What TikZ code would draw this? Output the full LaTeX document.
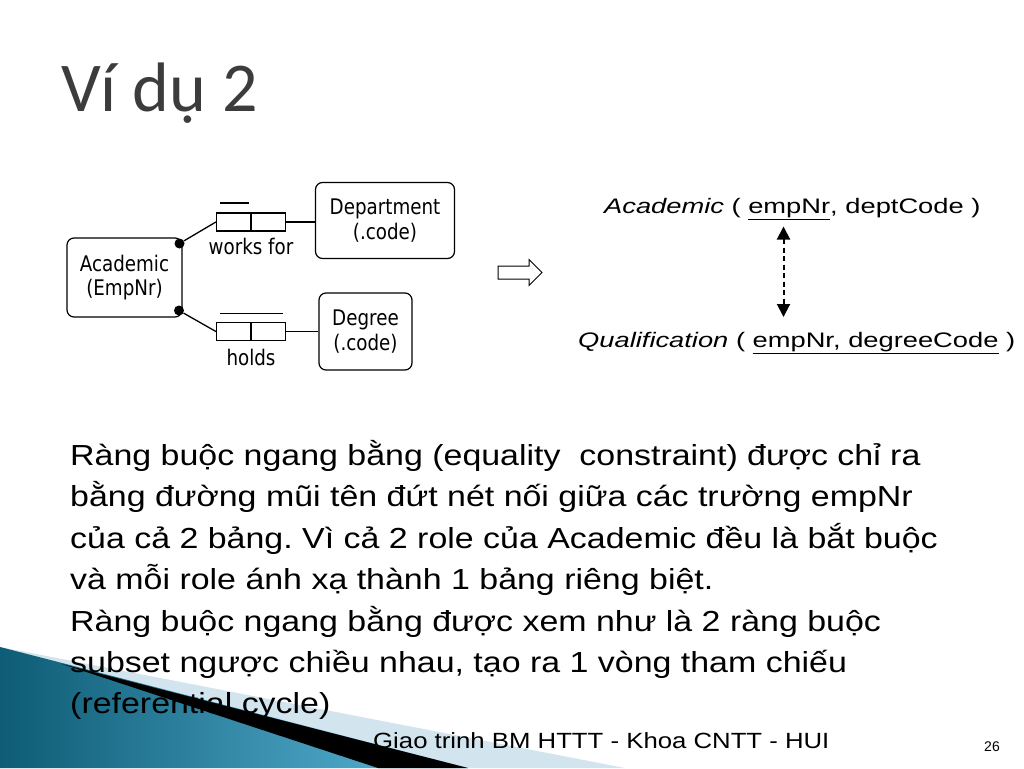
\documentclass[tikz,border=0pt]{standalone}
\usepackage{fontspec}
\setmainfont{Liberation Sans}
\newfontfamily\bodyfont[FakeStretch=1.17]{Liberation Sans}
\newfontfamily\relfont[FakeStretch=1.3]{Liberation Sans}
\newfontfamily\titlefont{Carlito}
\newfontfamily\ormfont[FakeStretch=0.85]{DejaVu Sans}
\usetikzlibrary{arrows.meta}
\definecolor{titlegray}{HTML}{3C3C3C}
\definecolor{lightband}{HTML}{D2E4EE}
\definecolor{tealdark}{HTML}{0E5C75}
\definecolor{teallight}{HTML}{5DB9DC}
\tikzset{
  entity/.style={draw, line width=1.2pt, rounded corners=7pt, align=center, font=\ormfont\fontsize{21.5}{24.5}\selectfont, inner sep=0pt},
  rolebox/.style={draw, line width=1.1pt, minimum width=34pt, minimum height=18pt, inner sep=0pt},
  conn/.style={line width=1.3pt},
  ormlabel/.style={font=\ormfont\fontsize{21.5}{24}\selectfont, inner sep=0pt},
  body/.style={anchor=base west, font=\bodyfont\fontsize{29}{35}\selectfont, inner sep=0pt},
  reltext/.style={anchor=base west, font=\relfont\fontsize{21}{24}\selectfont, inner sep=0pt},
  dot/.style={circle, fill=black, minimum size=10pt, inner sep=0pt},
}
\begin{document}
\frenchspacing
\begin{tikzpicture}[x=1pt,y=-1pt]
\useasboundingbox (0,0) rectangle (1024,768);
\fill[white] (0,0) rectangle (1024,768);
% bottom-left decoration
\fill[lightband] (0,647) -- (625,768) -- (0,768) -- cycle;
\shade[left color=tealdark, right color=teallight] (0,647) -- (66,664) -- (468,768) -- (0,768) -- cycle;
\fill[black] (62,664) -- (468,768) -- (378,768) -- cycle;
% title
\node[anchor=base west, inner sep=0pt, text=titlegray, font=\titlefont\fontsize{70}{74}\selectfont] (title) at (61,111) {Ví dụ 2};
% ORM diagram
\node[entity, minimum width=115pt, minimum height=79pt] (acad) at (124.5,277.5) {Academic\\(EmpNr)};
\node[entity, minimum width=139pt, minimum height=76pt] (dept) at (385,220.5) {Department\\(.code)};
\node[entity, minimum width=93pt, minimum height=77pt] (deg) at (365.5,331.5) {Degree\\(.code)};
\node[rolebox, anchor=east] (wf1) at (251,222) {};
\node[rolebox, anchor=west] (wf2) at (251,222) {};
\node[rolebox, anchor=east] (h1) at (251,331.5) {};
\node[rolebox, anchor=west] (h2) at (251,331.5) {};
\node[ormlabel] (wflab) at (251,246) {works for};
\node[ormlabel] (hlab) at (251,357) {holds};
\coordinate (wfbarL) at (220,203);
\coordinate (wfbarR) at (249,203);
\coordinate (hbarL) at (220,313.5);
\coordinate (hbarR) at (283,313.5);
\draw[line width=1.3pt] (wfbarL) -- (wfbarR);
\draw[line width=1.3pt] (hbarL) -- (hbarR);
\node[dot] (d1) at (179.5,243.5) {};
\node[dot] (d2) at (179,310.5) {};
\draw[conn] (d1) -- (wf1.west);
\draw[conn] (d2) -- (h1.west);
\draw[conn] (wf2.east) -- (dept.west |- wf2.east);
\draw[conn] (h2.east) -- (deg.west |- h2.east);
% hollow arrow
\draw[line width=1pt, fill=white, line join=miter] (498,266) -- (529,266) -- (529,259.5) -- (542,272.5) -- (529,285.5) -- (529,279) -- (498,279) -- cycle;
% relational schema
\node[reltext] (acadrel) at (604,213) {\textit{Academic} ( \underline{empNr}, deptCode )};
\node[reltext] (qualrel) at (578,347) {\textit{Qualification} ( \underline{empNr, degreeCode} )};
\coordinate (arrtop) at (783.5,226.5);
\coordinate (arrbot) at (783.5,317);
\draw[line width=2pt, dash pattern=on 5pt off 3.5pt, {Triangle[length=13pt,width=13pt]}-{Triangle[length=13pt,width=13pt]}] (arrtop) -- (arrbot);
% body text
\node[body] (l1) at (70,465) {Ràng buộc ngang bằng (equality\ \ constraint) được chỉ ra};
\node[body] (l2) at (70,506) {bằng đường mũi tên đứt nét nối giữa các trường empNr};
\node[body] (l3) at (70,548) {của cả 2 bảng. Vì cả 2 role của Academic đều là bắt buộc};
\node[body] (l4) at (70,589) {và mỗi role ánh xạ thành 1 bảng riêng biệt.};
\node[body] (l5) at (70,631) {Ràng buộc ngang bằng được xem như là 2 ràng buộc};
\node[body] (l6) at (70,672) {subset ngược chiều nhau, tạo ra 1 vòng tham chiếu};
\node[body] (l7) at (70,713) {(referential cycle)};
% footer
\node[anchor=base west, inner sep=0pt, font=\bodyfont\fontsize{22}{24}\selectfont] (footer) at (373,748) {Giao trinh BM HTTT - Khoa CNTT - HUI};
\node[anchor=base east, inner sep=0pt, font=\fontsize{14}{16}\selectfont] (pnum) at (1000,751) {26};
\end{tikzpicture}
\end{document}
